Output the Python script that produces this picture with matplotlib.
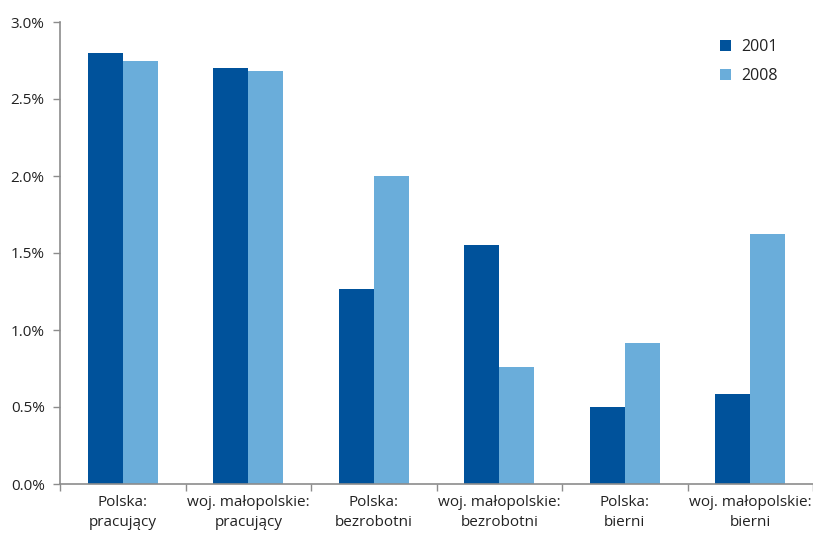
import matplotlib
matplotlib.use("Agg")
import matplotlib.pyplot as plt
import numpy as np
from matplotlib.ticker import FuncFormatter, FixedLocator, NullFormatter

plt.rcParams['font.family'] = ['Open Sans', 'DejaVu Sans']

categories = [
    "Polska:\npracujący",
    "woj. małopolskie:\npracujący",
    "Polska:\nbezrobotni",
    "woj. małopolskie:\nbezrobotni",
    "Polska:\nbierni",
    "woj. małopolskie:\nbierni",
]
values_2001 = [2.80, 2.70, 1.266, 1.552, 0.50, 0.584]
values_2008 = [2.745, 2.685, 2.00, 0.76, 0.915, 1.623]
series_labels = ["2001", "2008"]
y_ticks = [0.0, 0.5, 1.0, 1.5, 2.0, 2.5, 3.0]

dark = "#00529B"
light = "#6AADDA"
axis_gray = "#8C8C8C"

fig = plt.figure(figsize=(8.13, 5.35), dpi=100)
ax = fig.add_axes([60 / 813, 51 / 535, 753 / 813, 462 / 535])

x = np.arange(len(categories))
w = 0.28
ax.bar(x - w / 2, values_2001, width=w, color=dark, label=series_labels[0])
ax.bar(x + w / 2, values_2008, width=w, color=light, label=series_labels[1])

ax.set_xlim(-0.5, len(categories) - 0.5)
ax.set_ylim(0, 3.0)
ax.set_yticks(y_ticks)
ax.yaxis.set_major_formatter(FuncFormatter(lambda v, p: f"{v:.1f}%"))

# category labels centred, tick marks between groups
ax.set_xticks(x)
ax.set_xticklabels(categories, fontsize=11, color="#222222", linespacing=1.45)
ax.tick_params(axis='x', length=0, pad=8)
ax.xaxis.set_minor_locator(FixedLocator(np.arange(-0.5, len(categories), 1.0)))
ax.xaxis.set_minor_formatter(NullFormatter())
ax.tick_params(axis='x', which='minor', length=5, color=axis_gray, width=1)

ax.tick_params(axis='y', length=5, color=axis_gray, width=1, labelsize=11,
               labelcolor="#222222", pad=6)

for side in ["top", "right"]:
    ax.spines[side].set_visible(False)
for side in ["left", "bottom"]:
    ax.spines[side].set_color(axis_gray)
    ax.spines[side].set_linewidth(1.2)

leg = ax.legend(loc="upper right", bbox_to_anchor=(0.972, 0.995), frameon=False,
                fontsize=11.5, handlelength=0.7, handleheight=0.7,
                handletextpad=0.6, labelspacing=0.85)
for t in leg.get_texts():
    t.set_color("#222222")

fig.savefig("out.png", dpi=100)
